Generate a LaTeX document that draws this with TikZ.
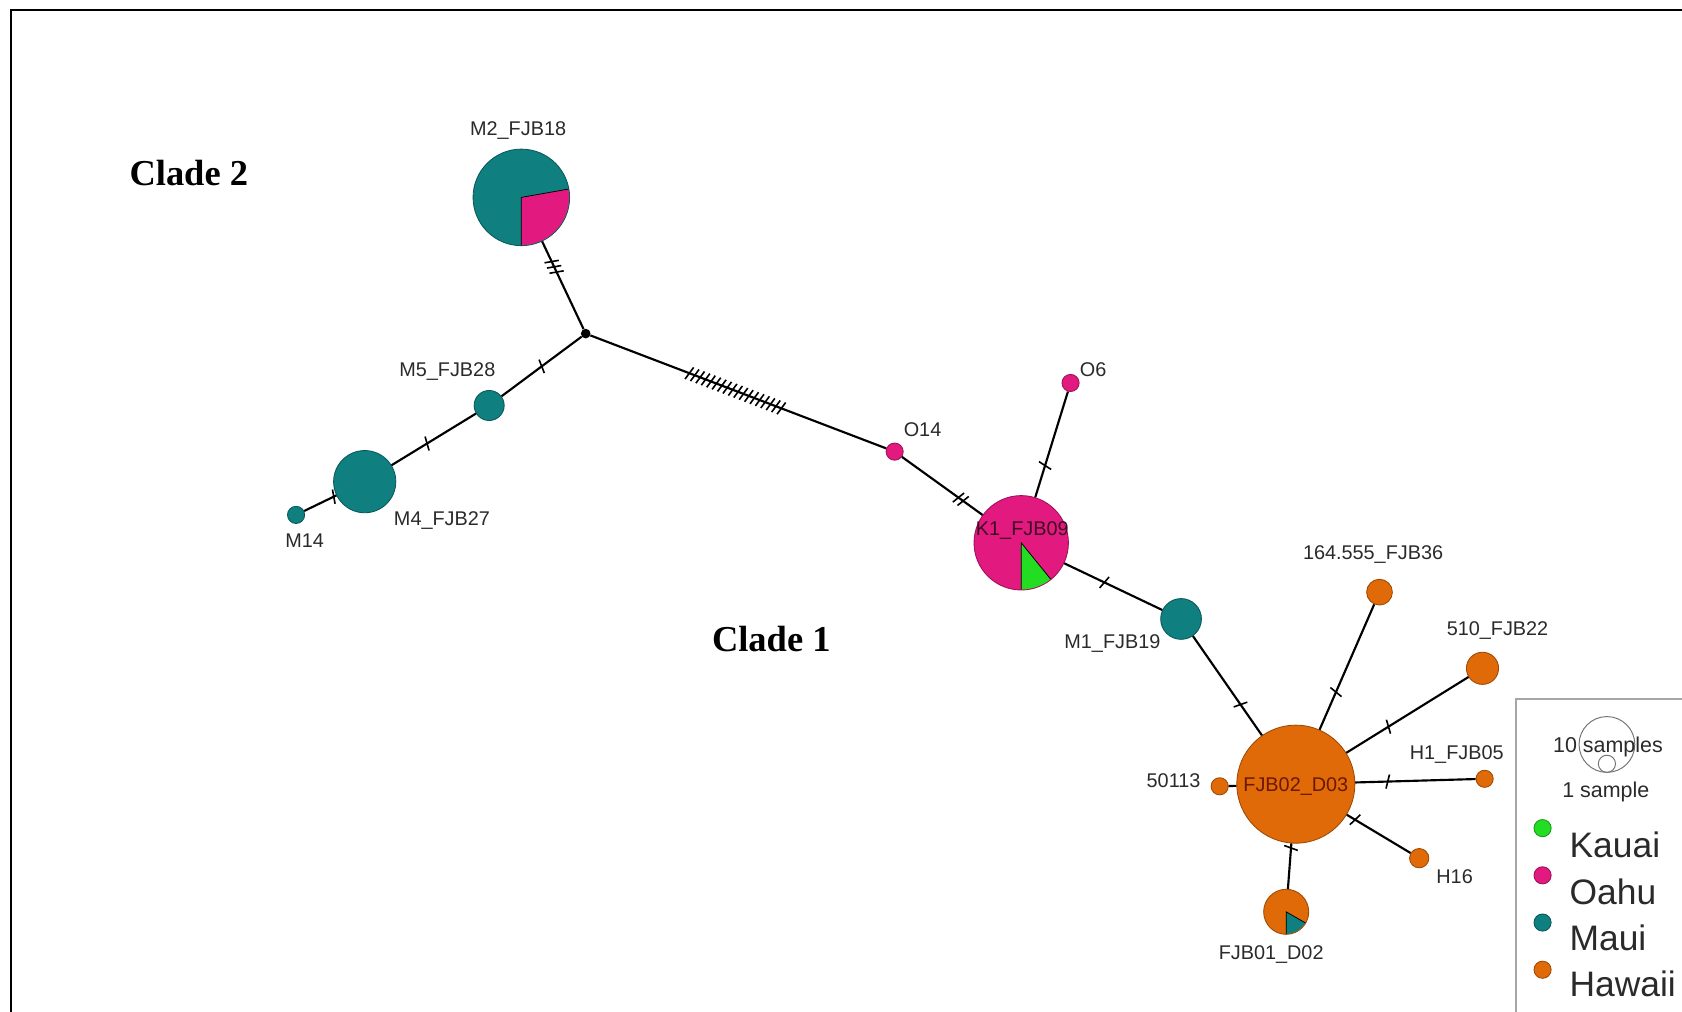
\documentclass[tikz,border=0pt]{standalone}
\usepackage{fontspec}
\setmainfont{Liberation Sans}
\newfontfamily\cladefont{Liberation Serif}
\usetikzlibrary{decorations.markings}
\definecolor{mteal}{HTML}{0F7F80}
\definecolor{mpink}{HTML}{E2197E}
\definecolor{mgreen}{HTML}{22DD22}
\definecolor{morange}{HTML}{E06A08}
\definecolor{lbltext}{HTML}{2A2A2A}
\newcommand\pieslice[5]{% node, radius, start, end, colour
  \fill[#5] (#1.center) -- ++(#3:#2pt-0.5pt) arc[start angle=#3, end angle=#4, radius=#2pt-0.5pt] -- cycle;
  \draw[black, line width=0.7pt] (#1.center) ++(#3:#2pt-0.3pt) -- (#1.center) -- ++(#4:#2pt-0.3pt);}
\begin{document}
\begin{tikzpicture}[x=1pt,y=-1pt,
  hap/.style 2 args={circle, inner sep=0pt, minimum size=2*#1 pt, fill=#2, draw=#2!70!black, line width=0.8pt},
  lbl/.style={font=\fontsize{18.5}{20}\selectfont, text=lbltext, inner sep=0pt},
  cladelbl/.style={font=\cladefont\bfseries\fontsize{34}{36}\selectfont, inner sep=0pt},
  legtxt/.style={font=\fontsize{33}{36}\selectfont, text=lbltext, inner sep=0pt, anchor=base west},
  legsmall/.style={font=\fontsize{20}{22}\selectfont, text=lbltext, inner sep=0pt},
  edge/.style={line width=2pt},
  hatch/.style 2 args={postaction={decorate,decoration={markings,mark=at position #1 with {\foreach \k in {1,...,#2}{\draw[line width=1.5pt] ({(\k-(#2+1)/2)*5.4pt-1.8pt},-6.5pt) -- ({(\k-(#2+1)/2)*5.4pt+1.8pt},6.5pt);}}}}}
]
\useasboundingbox (0,0) rectangle (1568,943);
\clip (0,0) rectangle (1568,943);
% outer frame
\draw[line width=2pt] (10,960) -- (10,9) -- (1600,9);

% haplotype nodes
\node[circle, inner sep=0pt, minimum size=9pt, fill=black] (J) at (546,311) {};
\node[hap={45}{mteal}] (M2) at (486,184) {};
\node[hap={14}{mteal}] (M5) at (456,378) {};
\node[hap={29}{mteal}] (M4) at (340,449) {};
\node[hap={8}{mteal}] (M14) at (276,480) {};
\node[hap={8}{mpink}] (O14) at (834,421) {};
\node[hap={8}{mpink}] (O6) at (998,357) {};
\node[hap={44}{mpink}] (K1) at (952,506) {};
\node[hap={19}{mteal}] (M1) at (1101,577) {};
\node[hap={55}{morange}] (F2) at (1208,731) {};
\node[hap={12}{morange}] (S164) at (1286,552) {};
\node[hap={15}{morange}] (S510) at (1382,623) {};
\node[hap={8}{morange}] (H1) at (1384,726) {};
\node[hap={9}{morange}] (H16) at (1323,800) {};
\node[hap={8}{morange}] (S501) at (1137,733) {};
\node[hap={21}{morange}] (F1) at (1199,850) {};

% pie slices
\pieslice{M2}{45}{-90}{10}{mpink}
\pieslice{K1}{44}{-90}{-51}{mgreen}
\pieslice{F1}{21}{-90}{-30}{mteal}

% edges with mutation ticks
\draw[edge, hatch={0.29}{3}] (M2) -- (J);
\draw[edge, hatch={0.5}{1}] (J) -- (M5);
\draw[edge, hatch={0.58}{1}] (M5) -- (M4);
\draw[edge, hatch={0.08}{1}] (M4) -- (M14);
\draw[edge, hatch={0.49}{18}] (J) -- (O14);
\draw[edge, hatch={0.73}{2}] (O14) -- (K1);
\draw[edge, hatch={0.70}{1}] (O6) -- (K1);
\draw[edge, hatch={0.41}{1}] (K1) -- (M1);
\draw[edge, hatch={0.69}{1}] (M1) -- (F2);
\draw[edge, hatch={0.30}{1}] (F2) -- (S164);
\draw[edge, hatch={0.345}{1}] (F2) -- (S510);
\draw[edge, hatch={0.27}{1}] (F2) -- (H1);
\draw[edge, hatch={0.13}{1}] (F2) -- (H16);
\draw[edge] (F2) -- (S501);
\draw[edge, hatch={0.1}{1}] (F2) -- (F1);

% labels
\node[lbl] (lM2) at (483,122) {M2\_FJB18};
\node[lbl] (lM5) at (417,346) {M5\_FJB28};
\node[lbl] (lM4) at (412,485) {M4\_FJB27};
\node[lbl] (lM14) at (284,504) {M14};
\node[lbl] (lO14) at (860,401) {O14};
\node[lbl] (lO6) at (1019,345) {O6};
\node[lbl, text={rgb,255:red,60;green,12;blue,34}] (lK1) at (953,495) {K1\_FJB09};
\node[lbl] (lM1) at (1037,600) {M1\_FJB19};
\node[lbl, text={rgb,255:red,106;green,24;blue,0}] (lF2) at (1208,733) {FJB02\_D03};
\node[lbl] (lS164) at (1280,517) {164.555\_FJB36};
\node[lbl] (lS510) at (1396,588) {510\_FJB22};
\node[lbl] (lH1) at (1358,703) {H1\_FJB05};
\node[lbl] (lH16) at (1356,817) {H16};
\node[lbl] (lS501) at (1094,728) {50113};
\node[lbl] (lF1) at (1185,890) {FJB01\_D02};

\node[cladelbl] (c2) at (176,161) {Clade 2};
\node[cladelbl] (c1) at (719,596) {Clade 1};

% legend
\draw[black!35, line width=1.8pt] (1413,960) -- (1413,652) -- (1600,652);
\node[circle, draw=black!55, line width=0.9pt, inner sep=0pt, minimum size=52pt] (big) at (1498,694) {};
\node[circle, draw=black!55, line width=0.9pt, inner sep=0pt, minimum size=16pt] (small) at (1498,712) {};
\node[legsmall] (l10) at (1499,696) {10 samples};
\node[legsmall] (l1) at (1497,738) {1 sample};
\node[hap={8}{mgreen}] (k1) at (1438,772) {};
\node[hap={8}{mpink}] (k2) at (1438,816) {};
\node[hap={8}{mteal}] (k3) at (1438,860) {};
\node[hap={8}{morange}] (k4) at (1438,904) {};
\node[legtxt] (t1) at (1463,799) {Kauai};
\node[legtxt] (t2) at (1463,843) {Oahu};
\node[legtxt] (t3) at (1463,886) {Maui};
\node[legtxt] (t4) at (1463,929) {Hawaii};
\end{tikzpicture}
\end{document}
